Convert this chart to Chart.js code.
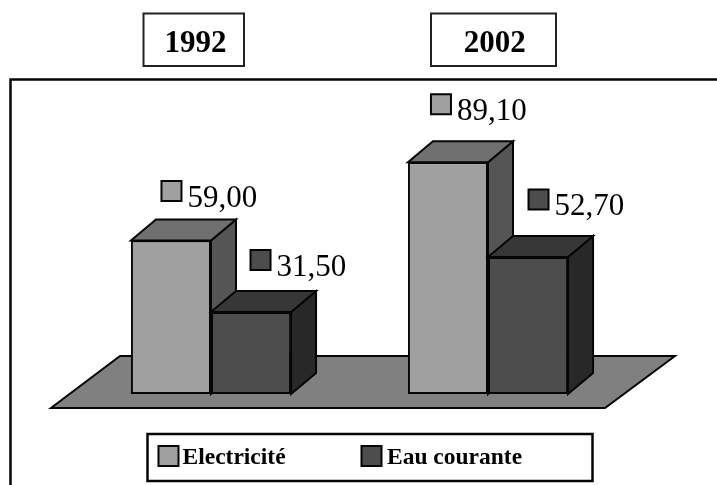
<!DOCTYPE html>
<html><head><meta charset="utf-8">
<style>html,body{margin:0;padding:0;background:#fff}canvas{display:block}</style>
<script src="https://cdn.jsdelivr.net/npm/chart.js@4"></script>
</head><body>
<canvas id="c" width="717" height="485"></canvas>
<script>
const categories = ['1992', '2002'];
const electricite = [59.0, 89.1];
const eauCourante = [31.5, 52.7];
const seriesNames = ['Electricité', 'Eau courante'];

const colors = [
  {front:'#a0a0a0', top:'#707070', side:'#555555'},
  {front:'#4d4d4d', top:'#373737', side:'#282828'}
];
const ink = '#050505';
const DX = 25, DY = 21;
// label marker offsets from the bar's top-centre
const labelOffsets = [
  [[-9.5,-59.5],[-17,-68]],
  [[-0.5,-62],[0.5,-67.5]]
];
const serif = '"Liberation Serif","Times New Roman",serif';

function poly(ctx, pts, fill, lw){
  ctx.beginPath();
  pts.forEach((p,i)=> i?ctx.lineTo(p[0],p[1]):ctx.moveTo(p[0],p[1]));
  ctx.closePath();
  if(fill){ctx.fillStyle=fill;ctx.fill();}
  ctx.lineWidth=lw||2;ctx.strokeStyle=ink;ctx.lineJoin='miter';ctx.stroke();
}
function extrude(chart,index){
  const ctx=chart.ctx, col=colors[index];
  ctx.save();
  chart.getDatasetMeta(index).data.forEach(b=>{
    const h=b.getProps(['x','y','base','width'],true);
    const l=h.x-h.width/2, r=h.x+h.width/2, t=h.y, bt=h.base;
    poly(ctx,[[r,bt],[r+DX,bt-DY],[r+DX,t-DY],[r,t]],col.side,2);
    poly(ctx,[[l,t],[l+DX,t-DY],[r+DX,t-DY],[r,t]],col.top,2);
  });
  ctx.restore();
}

const scene = {
  id:'scene',
  beforeDraw(chart){
    const ctx=chart.ctx, ca=chart.chartArea;
    ctx.save();
    ctx.fillStyle='#fff';ctx.fillRect(0,0,717,485);
    // outer frame (open right and bottom)
    ctx.strokeStyle=ink;ctx.lineWidth=2.5;
    ctx.beginPath();ctx.moveTo(10.5,485);ctx.lineTo(10.5,79.5);ctx.lineTo(717,79.5);ctx.stroke();
    // year boxes
    const boxes=[[143.5,100.5],[431,125]];
    const textShift=[1.8,1.3];
    ctx.font='bold 31px '+serif;ctx.textAlign='center';ctx.textBaseline='alphabetic';
    categories.forEach((c,i)=>{
      ctx.lineWidth=2;ctx.strokeStyle='#222';
      ctx.strokeRect(boxes[i][0],13.5,boxes[i][1],52.5);
      ctx.fillStyle='#000';
      ctx.fillText(c,boxes[i][0]+boxes[i][1]/2+textShift[i],51.5);
    });
    // floor
    const y=chart.scales.y.getPixelForValue(0);
    poly(ctx,[[ca.left+47.5,y-38],[ca.right+48.5,y-38],[ca.right-21.5,y+14],[ca.left-21.5,y+14]],'#808080',2);
    // legend
    ctx.lineWidth=2.5;ctx.strokeStyle=ink;ctx.strokeRect(147.5,434,445,47);
    const lx=[158.5,361.5], tx=[182.5,387];
    ctx.font='bold 23.5px '+serif;ctx.textAlign='left';
    seriesNames.forEach((n,i)=>{
      poly(ctx,[[lx[i],446],[lx[i]+20,446],[lx[i]+20,466],[lx[i],466]],colors[i].front,2);
      ctx.fillStyle='#000';ctx.fillText(n,tx[i],464);
    });
    ctx.restore();
  },
  // Electricité is drawn first, Eau courante afterwards so it overlaps it
  beforeDatasetDraw(chart,args){
    if(args.index===1) return false;
    extrude(chart,0);
  },
  afterDatasetsDraw(chart){
    const ctx=chart.ctx;
    extrude(chart,1);
    chart.getDatasetMeta(1).controller.draw();
    ctx.save();
    ctx.font='31px '+serif;ctx.textAlign='left';ctx.textBaseline='alphabetic';
    chart.data.datasets.forEach((ds,i)=>{
      chart.getDatasetMeta(i).data.forEach((b,j)=>{
        const o=labelOffsets[i][j];
        const sx=b.x+o[0], sy=b.y+o[1];
        poly(ctx,[[sx,sy],[sx+20,sy],[sx+20,sy+20],[sx,sy+20]],colors[i].front,2);
        ctx.fillStyle='#000';
        ctx.fillText(ds.data[j].toFixed(2).replace('.',','),sx+26,sy+25.5);
      });
    });
    ctx.restore();
  }
};

new Chart(document.getElementById('c'),{
  type:'bar',
  data:{labels:categories,datasets:[
    {label:seriesNames[0],data:electricite,backgroundColor:colors[0].front,borderColor:ink,borderWidth:2,borderSkipped:false},
    {label:seriesNames[1],data:eauCourante,backgroundColor:colors[1].front,borderColor:ink,borderWidth:2,borderSkipped:false}
  ]},
  options:{
    responsive:false,animation:false,
    layout:{padding:{left:72.5,right:90.5,top:82,bottom:91}},
    plugins:{legend:{display:false},title:{display:false},tooltip:{enabled:false}},
    datasets:{bar:{categoryPercentage:0.578,barPercentage:1}},
    scales:{
      x:{display:false},
      y:{display:false,min:0,max:120}
    }
  },
  plugins:[scene]
});
</script>
</body></html>
